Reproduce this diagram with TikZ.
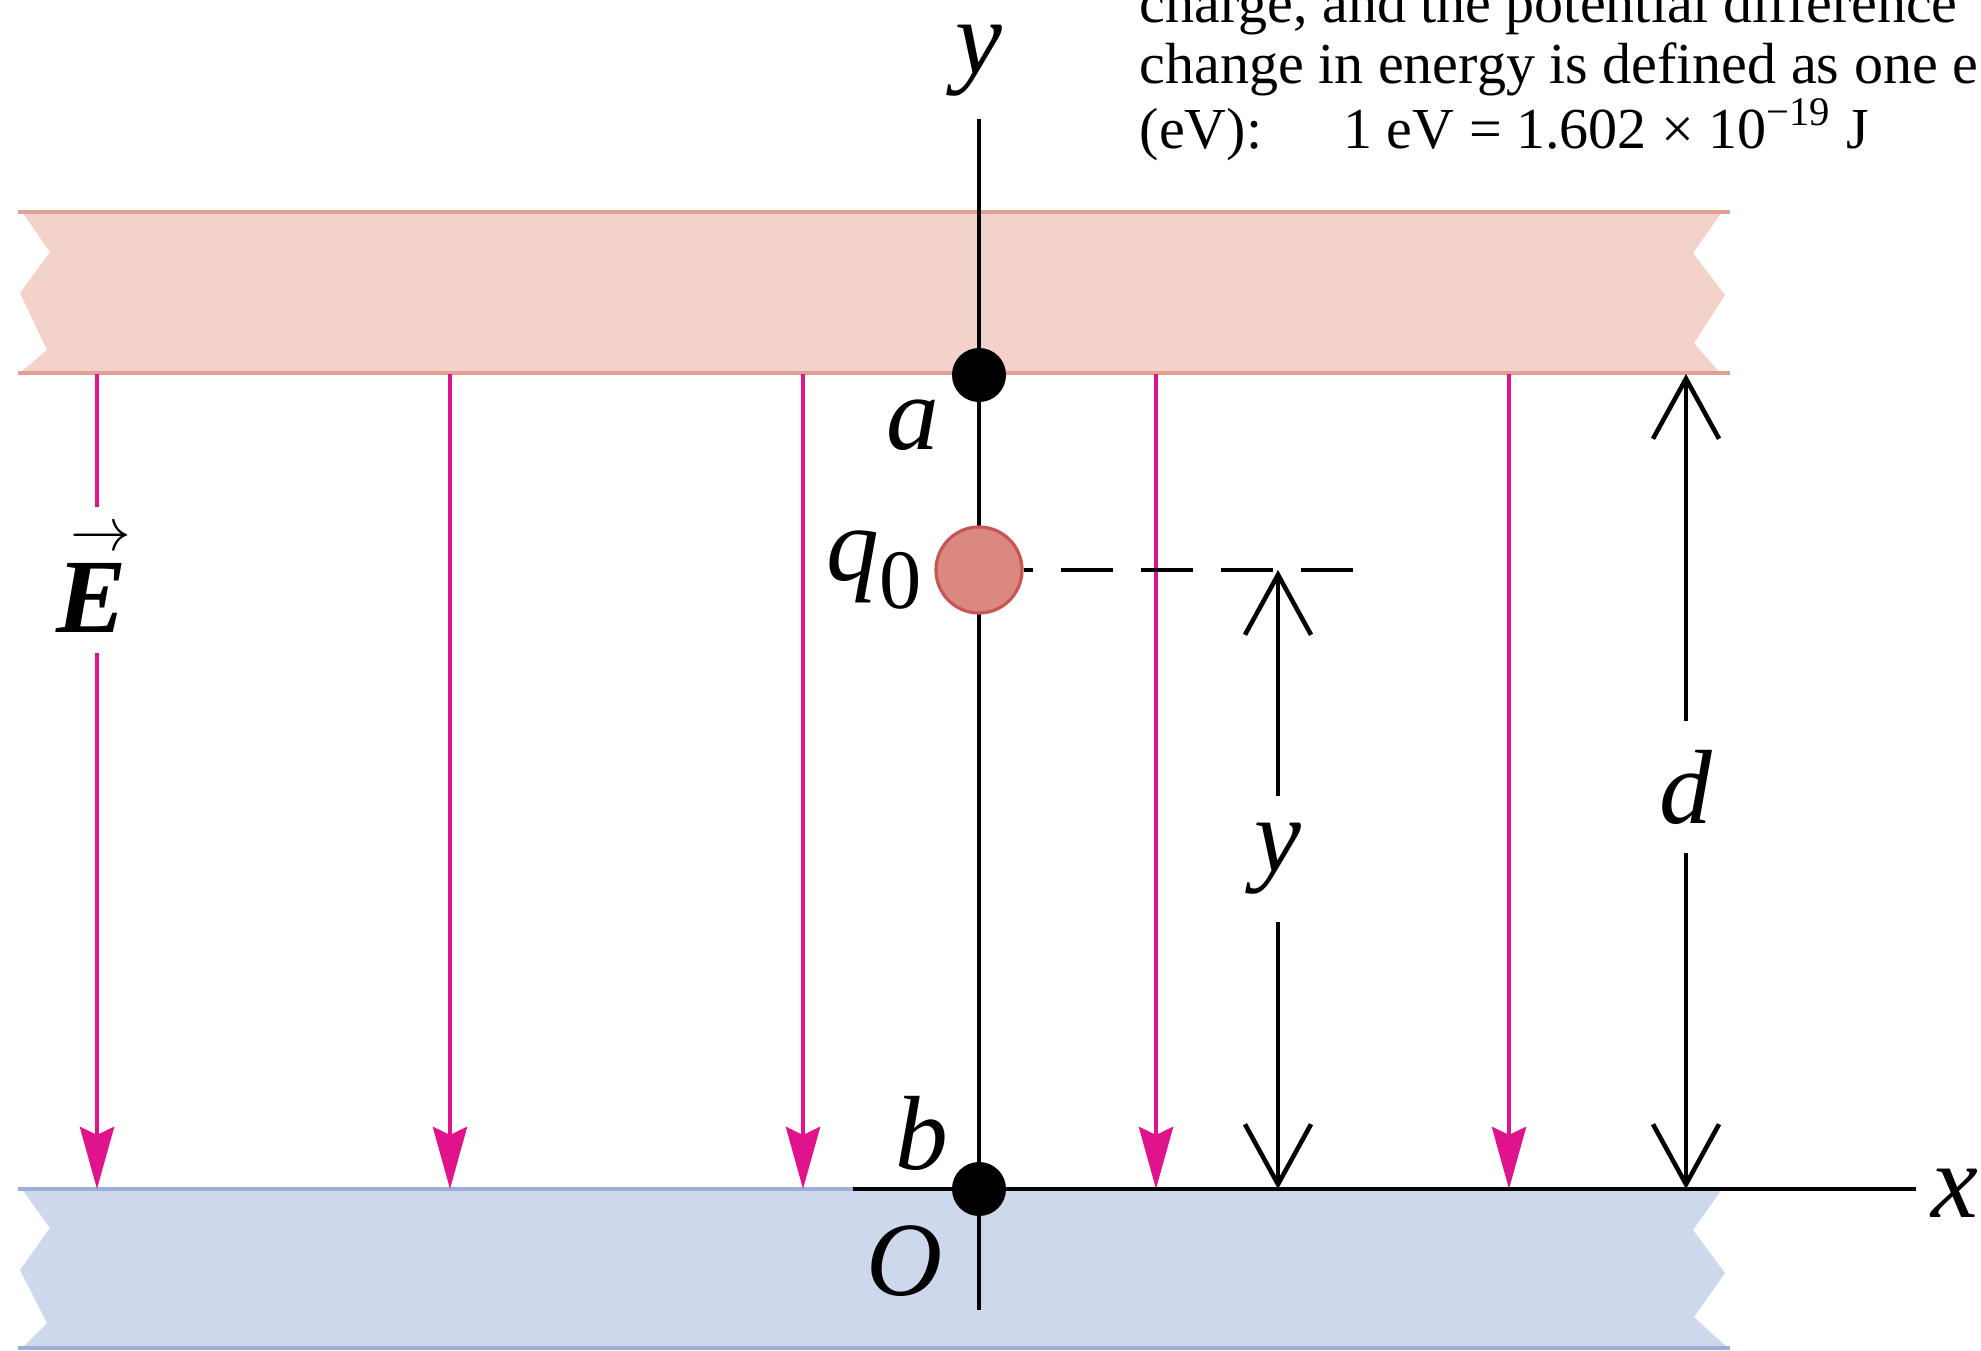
\documentclass[tikz,border=0pt]{standalone}
\usepackage{fontspec}
\setmainfont{Liberation Serif}
\usepackage{tikz}
\usetikzlibrary{positioning, arrows.meta}

\definecolor{plateTop}{RGB}{243,210,202}
\definecolor{plateTopEdge}{RGB}{226,160,148}
\definecolor{plateBot}{RGB}{206,216,236}
\definecolor{plateBotEdge}{RGB}{158,175,212}
\definecolor{fieldline}{RGB}{224,18,140}
\definecolor{chargeFill}{RGB}{218,136,128}
\definecolor{chargeEdge}{RGB}{200,85,85}

\begin{document}
\begin{tikzpicture}[
  x=0.01cm, y=0.01cm,
  lbl/.style={font=\fontsize{30}{30}\selectfont\itshape, inner sep=0pt},
  axis/.style={line width=1.3pt},
  plateedge/.style={line width=1.4pt},
  field/.style={draw=fieldline, line width=1.3pt},
  fieldtip/.style={field, -{Stealth[length=0.62cm, width=0.34cm, inset=0.08cm]}},
  dim/.style={line width=1.3pt, -{Straight Barb[length=0.6cm, width=0.66cm]}},
  dot/.style={circle, fill=black, inner sep=0pt, minimum size=0.54cm},
  charge/.style={circle, fill=chargeFill, draw=chargeEdge, line width=0.9pt, inner sep=0pt, minimum size=0.86cm},
]
\useasboundingbox (0,0) rectangle (1981,1350);
\clip (0,0) rectangle (1981,1350);

% --- Plates ---
\fill[plateTop] (22,1138) -- (50,1098) -- (20,1057) -- (47,1000) -- (20,977)
  -- (1720,977) -- (1694,1007) -- (1725,1055) -- (1693,1097) -- (1722,1138) -- cycle;
\draw[plateedge, draw=plateTopEdge] (18,1138) -- (1730,1138);
\draw[plateedge, draw=plateTopEdge] (18,977) -- (1730,977);
\fill[plateBot] (22,161) -- (50,122) -- (20,80) -- (47,27) -- (20,0)
  -- (1730,0) -- (1694,33) -- (1725,77) -- (1693,120) -- (1722,161) -- cycle;
\draw[plateedge, draw=plateBotEdge] (18,161) -- (1730,161);
\draw[plateedge, draw=plateBotEdge] (18,2) -- (1730,2);

% --- Text above (cut at the top edge) ---
\node[anchor=base west, align=left, inner sep=0pt,
  font=\fontsize{16.5}{17.2}\selectfont] (note) at (1139,1202)
  {charge, and the potential difference\\
   change in energy is defined as one e\\
   (eV):\hspace{1.4em}1 eV = 1.602 × 10\textsuperscript{−19} J};

% --- Labels ---
\node[lbl] (ylabel) at (979,1289) {y};
\node[lbl, inner sep=0.15cm] (xlabel) at (1955,157) {x};
\node[lbl] (alab) at (913,925) {a};
\node[lbl] (blab) at (922,217) {b};
\node[lbl] (Olab) at (905,89) {O};
\node[lbl, font=\fontsize{30}{30}\selectfont\bfseries\itshape, inner sep=0.2cm] (E) at (92,770)
  {\rlap{\hspace{0.13em}\raisebox{0.78em}{\fontsize{17.28}{17.28}\selectfont$\rightarrow$}}E};
\node[lbl, inner sep=0.27cm] (ydim) at (1278,491) {y};
\node[lbl, inner sep=0.28cm] (ddim) at (1686,563) {d};

% --- Field lines ---
\coordinate (f1t) at (97,976);   \coordinate (f1b) at (97,161);
\coordinate (f2t) at (450,976);  \coordinate (f2b) at (450,161);
\coordinate (f3t) at (803,976);  \coordinate (f3b) at (803,161);
\coordinate (f4t) at (1156,976); \coordinate (f4b) at (1156,161);
\coordinate (f5t) at (1509,976); \coordinate (f5b) at (1509,161);
\draw[field] (f1t) -- (f1t |- E.north);
\draw[fieldtip] (f1t |- E.south) -- (f1b);
\draw[fieldtip] (f2t) -- (f2b);
\draw[fieldtip] (f3t) -- (f3b);
\draw[fieldtip] (f4t) -- (f4b);
\draw[fieldtip] (f5t) -- (f5b);

% --- Axes ---
\coordinate (axisEnd) at (979,40);
\coordinate (xstart) at (853,161);
\draw[axis, shorten <=0.22cm] (ylabel) -- (axisEnd);
\draw[axis] (xstart) -- (xstart -| xlabel.west);

% --- Points a, b and the charge ---
\node[dot] (pa) at (979,975) {};
\node[dot] (pb) at (979,161) {};
\node[charge] (q0) at (979,780) {};
\node[lbl, left=0.12cm of q0] (q0lab)
  {q\raisebox{-0.27em}{\upshape\fontsize{24}{24}\selectfont 0}};

% --- Dimensions y and d ---
\coordinate (dashEnd) at (1353,780);
\draw[line width=1.3pt, dash pattern=on 0.52cm off 0.28cm] (dashEnd) -- (q0.east);
\coordinate (ytip) at (1278,780);
\coordinate (ybase) at (1278,161);
\draw[dim] (ydim) -- (ytip);
\draw[dim] (ydim) -- (ybase);
\coordinate (dtip) at (1686,976);
\coordinate (dbase) at (1686,161);
\draw[dim] (ddim) -- (dtip);
\draw[dim] (ddim) -- (dbase);
\end{tikzpicture}
\end{document}
